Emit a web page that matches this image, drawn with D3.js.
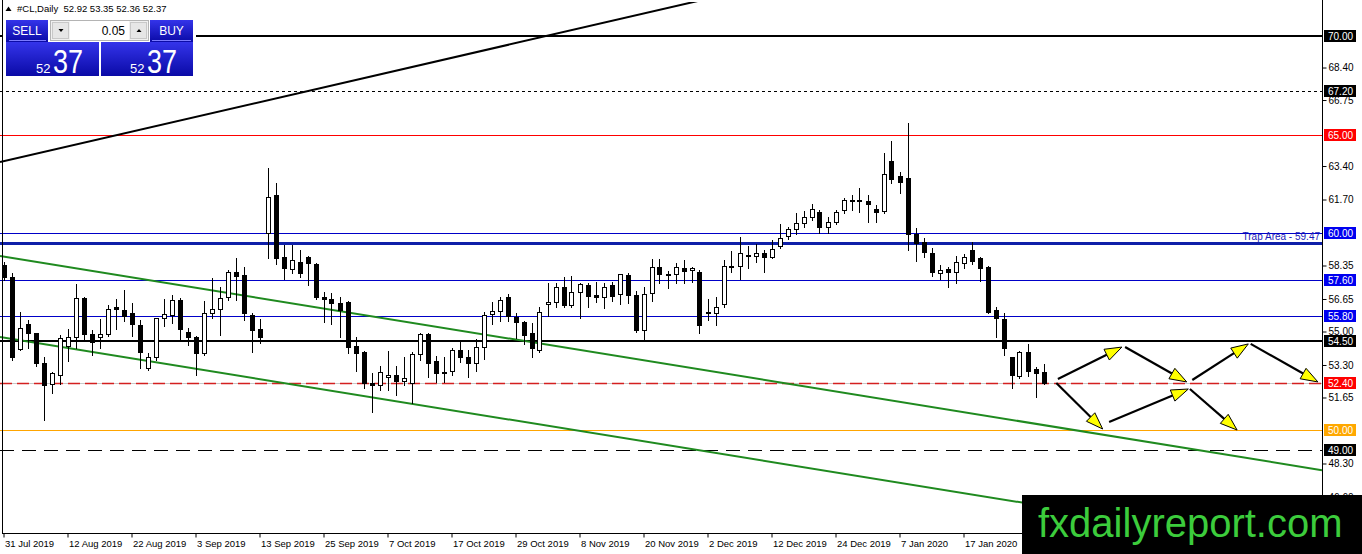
<!DOCTYPE html>
<html>
<head>
<meta charset="utf-8">
<script src="https://cdn.jsdelivr.net/npm/d3@7"></script>
<style>
  html, body { margin: 0; padding: 0; background: #fff; overflow: hidden; }
  svg { display: block; font-family: "Liberation Sans", Arial, sans-serif; }
</style>
</head>
<body>
<div id="chart"></div>
<script>
// --- daily candles, #CL ---
const opens = [58.38,57.79,54.11,55.38,54.92,53.40,52.34,52.79,54.26,54.72,56.70,54.87,54.72,54.87,56.24,56.09,55.94,55.33,53.15,53.71,
  55.69,55.84,56.60,54.97,54.72,53.91,55.94,56.14,56.75,58.02,57.87,55.84,55.13,60.00,61.93,58.78,58.17,58.53,58.78,58.43,
  56.75,56.65,56.45,56.50,54.26,53.96,52.39,52.28,52.69,52.79,52.49,52.39,53.86,54.87,53.50,52.94,52.99,54.06,53.71,53.40,
  54.21,55.89,56.04,56.75,55.74,55.48,54.92,54.06,56.40,56.50,57.26,56.35,57.01,57.36,56.85,56.75,57.36,56.90,57.87,56.85,
  55.08,56.95,58.27,57.92,57.92,58.22,58.12,58.02,55.99,55.94,56.40,58.32,58.32,58.88,58.83,58.98,58.78,59.34,59.85,60.20,
  60.51,60.81,61.07,60.30,60.56,61.17,61.68,61.62,61.62,61.22,61.12,63.65,62.89,62.79,59.95,59.54,58.98,57.97,58.17,58.02,
  58.48,59.14,58.73,58.27,56.09,55.63,53.71,52.74,53.96,53.10,52.92];
const highs = [58.53,57.97,56.00,55.58,54.92,53.71,52.94,54.82,55.13,57.41,56.75,55.08,55.63,56.35,56.65,57.11,56.45,55.58,53.91,55.69,
  56.65,56.85,56.70,55.18,54.77,56.55,57.72,57.26,58.12,58.73,58.27,55.94,55.63,63.30,62.54,59.39,59.39,59.14,58.83,58.48,
  57.01,56.95,56.75,56.55,54.72,54.01,52.89,53.25,54.01,53.25,53.71,53.96,54.92,54.92,53.76,53.71,54.16,54.57,54.06,54.62,
  55.99,56.50,56.75,56.90,55.94,55.53,55.43,56.24,57.46,57.46,57.77,57.82,57.46,57.46,57.51,57.46,57.51,57.92,57.97,57.06,
  57.26,58.68,58.68,58.07,58.48,58.63,58.27,58.12,56.65,56.75,58.63,59.09,59.80,59.34,59.44,59.14,59.64,60.46,60.30,61.02,
  61.12,61.47,61.17,60.81,61.17,61.78,61.93,62.28,61.93,61.42,64.06,64.67,63.10,65.58,60.25,59.75,59.24,58.38,58.27,58.83,
  58.93,59.54,58.78,58.32,56.24,55.94,53.71,54.01,54.37,53.20,53.35];
const lows = [57.61,53.55,54.06,54.16,53.25,50.51,51.88,52.34,53.50,54.16,54.57,53.81,54.16,54.77,55.13,55.53,54.77,53.15,53.05,53.55,
  55.28,55.43,54.57,54.31,52.79,53.81,55.69,54.82,56.60,56.60,55.58,53.96,54.42,58.73,58.43,57.67,57.97,57.77,57.36,56.65,
  55.48,55.38,54.72,53.91,52.99,52.13,50.91,52.03,52.03,51.78,52.28,51.37,53.55,52.69,52.44,52.44,52.79,53.45,52.69,52.99,
  53.60,55.38,55.53,55.53,54.67,54.37,53.71,53.96,55.79,56.24,56.24,56.24,55.69,56.24,56.50,56.19,56.55,56.40,56.45,54.97,
  54.62,56.55,57.46,57.21,57.46,57.46,57.51,54.92,55.58,55.33,56.24,58.02,57.67,58.22,58.53,58.02,58.73,59.24,59.70,59.95,
  60.30,60.66,60.00,60.00,60.46,61.02,61.17,61.07,60.56,60.56,61.02,62.54,62.03,59.14,58.58,58.78,57.82,57.67,57.26,57.46,
  58.22,58.43,57.56,55.94,54.72,53.81,52.13,52.64,52.74,51.68,52.36];
const closes = [57.77,53.72,55.18,54.92,53.40,52.28,52.89,54.67,54.72,56.70,54.87,54.47,54.87,56.14,56.14,55.79,55.38,53.96,53.71,55.69,
  55.89,56.60,55.13,54.72,53.91,55.94,56.14,56.70,58.02,57.82,55.94,55.08,54.72,61.83,58.73,58.22,58.63,57.97,58.48,56.75,
  56.65,56.45,56.09,54.21,53.91,52.39,52.28,52.94,52.79,52.49,52.64,53.86,54.87,53.40,52.89,52.89,54.06,53.71,53.40,54.21,
  55.84,56.04,56.60,55.79,55.48,54.82,54.16,55.99,56.50,57.26,56.35,57.01,57.41,56.80,56.75,57.26,56.80,57.92,56.85,55.08,
  56.90,58.27,57.92,57.87,58.27,58.07,58.22,55.33,55.94,56.24,58.32,58.27,58.98,58.83,58.98,58.78,59.19,59.75,60.20,60.51,
  60.81,61.22,60.30,60.56,61.07,61.68,61.62,61.68,61.47,61.07,62.99,62.74,62.59,59.95,59.49,59.04,58.02,58.12,58.02,58.53,
  58.78,58.58,58.22,55.99,55.69,54.16,52.79,53.96,52.99,52.89,52.37];

// trading calendar
const firstDay = "2019-07-31";
const holidays = ["2019-12-25", "2020-01-01"];
const tickLabels = ["31 Jul 2019","12 Aug 2019","22 Aug 2019","3 Sep 2019","13 Sep 2019","25 Sep 2019","7 Oct 2019",
  "17 Oct 2019","29 Oct 2019","8 Nov 2019","20 Nov 2019","2 Dec 2019","12 Dec 2019","24 Dec 2019","7 Jan 2020","17 Jan 2020"];

// price scale labels
const priceTicks = [68.40, 66.75, 63.40, 61.70, 58.35, 56.65, 55.00, 53.30, 51.65, 48.30, 46.60];

// horizontal levels
const levelPrices = [70.00, 67.20, 65.00, 60.00, 59.47, 57.60, 55.80, 54.50, 52.40, 50.00, 49.00];
const levelKinds  = ["black", "dotted", "red", "blue", "trap", "blue", "blue", "black", "reddash", "orange", "dash"];

// trend lines: [bar, price] anchor pairs
const resistanceLine = [[0, 63.64], [80, 71.14]];
const channelTop     = [[0, 58.80], [130, 50.25]];
const channelBottom  = [[0, 54.69], [130, 46.14]];

// projected path arrows, [bar, price]
const arrowFrom = [[131.8, 52.59], [140.2, 54.21], [148.6, 52.54], [155.9, 54.37], [131.6, 52.39], [138.2, 50.41], [148.3, 52.08]];
const arrowTo   = [[139.8, 54.21], [147.9, 52.44], [155.6, 54.37], [164.3, 52.44], [137.4, 50.05], [148.1, 52.08], [154.2, 50.00]];

// ---------------------------------------------------------------
const W = 1362, H = 554;
const plot = { left: 0, right: 1322, top: 2, bottom: 533 };

const dates = [];
const fmtIso = d3.utcFormat("%Y-%m-%d");
for (let d = new Date(firstDay + "T00:00:00Z"); dates.length < closes.length; d.setUTCDate(d.getUTCDate() + 1)) {
  const wd = d.getUTCDay();
  if (wd === 0 || wd === 6 || holidays.includes(fmtIso(d))) continue;
  dates.push(new Date(d));
}
const fmtDate = d3.utcFormat("%-d %b %Y");
const dateStr = dates.map(fmtDate);
const tickIdx = tickLabels.map(t => dateStr.indexOf(t)).filter(i => i >= 0);

const x = d3.scaleLinear().domain([0, closes.length - 1]).range([3.5, 3.5 + 8 * (closes.length - 1)]);
const y = d3.scaleLinear().domain([50, 70]).range([430, 36]);

const svg = d3.select("#chart").append("svg")
  .attr("width", W).attr("height", H);

svg.append("rect").attr("width", W).attr("height", H).attr("fill", "#fff");

const defs = svg.append("defs");
defs.append("clipPath").attr("id", "plotClip")
  .append("rect")
  .attr("x", plot.left).attr("y", plot.top)
  .attr("width", plot.right - plot.left).attr("height", plot.bottom - plot.top);

const btnGrad = defs.append("linearGradient").attr("id", "btnGrad")
  .attr("x1", 0).attr("y1", 0).attr("x2", 0).attr("y2", 1);
btnGrad.append("stop").attr("offset", "0%").attr("stop-color", "#3434ea");
btnGrad.append("stop").attr("offset", "100%").attr("stop-color", "#0a0aa6");

const g = svg.append("g").attr("clip-path", "url(#plotClip)");

// level lines
const levelStyle = {
  black:   { stroke: "#000", width: 2, dash: null },
  dotted:  { stroke: "#000", width: 1, dash: "3,3" },
  red:     { stroke: "#ff0000", width: 1, dash: null },
  blue:    { stroke: "#0000c8", width: 1, dash: null },
  trap:    { stroke: "#0f1fa8", width: 3, dash: null },
  reddash: { stroke: "#d42020", width: 1.5, dash: "12,5" },
  orange:  { stroke: "#ffa500", width: 1, dash: null },
  dash:    { stroke: "#000", width: 1, dash: "14,8" }
};

levelPrices.forEach((p, i) => {
  const st = levelStyle[levelKinds[i]];
  const yy = Math.round(y(p)) + (st.width % 2 ? 0.5 : 0);
  if (levelKinds[i] === "reddash") {
    g.append("line").attr("x1", 0).attr("x2", plot.right).attr("y1", yy).attr("y2", yy)
      .attr("stroke", "#c8c8c8").attr("stroke-width", 1);
  }
  g.append("line")
    .attr("x1", 0).attr("x2", plot.right)
    .attr("y1", yy).attr("y2", yy)
    .attr("stroke", st.stroke)
    .attr("stroke-width", st.width)
    .attr("stroke-dasharray", st.dash);
});

// trap area caption
g.append("text")
  .attr("x", 1320).attr("y", y(59.47) - 3)
  .attr("text-anchor", "end")
  .attr("font-size", 10)
  .attr("fill", "#1a1ab8")
  .text("Trap Area - " + d3.format(".2f")(59.47));

// trend lines extended across the plot
function drawTrend(anchors, color, width) {
  const [[b1, p1], [b2, p2]] = anchors;
  const slope = (p2 - p1) / (b2 - b1);
  const bL = x.invert(0), bR = x.invert(plot.right);
  g.append("line")
    .attr("x1", x(bL)).attr("y1", y(p1 + slope * (bL - b1)))
    .attr("x2", x(bR)).attr("y2", y(p1 + slope * (bR - b1)))
    .attr("stroke", color).attr("stroke-width", width);
}
drawTrend(resistanceLine, "#000", 2);
drawTrend(channelTop, "#1f8a1f", 2);
drawTrend(channelBottom, "#1f8a1f", 2);

// candles
const candles = g.append("g").attr("shape-rendering", "crispEdges");
d3.range(closes.length).forEach(i => {
  const cx = Math.round(x(i));
  const up = closes[i] >= opens[i];
  candles.append("line")
    .attr("x1", cx + 0.5).attr("x2", cx + 0.5)
    .attr("y1", Math.round(y(highs[i]))).attr("y2", Math.round(y(lows[i])) + 1)
    .attr("stroke", "#000").attr("stroke-width", 1);
  const top = Math.round(y(Math.max(opens[i], closes[i])));
  const bot = Math.round(y(Math.min(opens[i], closes[i])));
  candles.append("rect")
    .attr("x", cx - 1.5).attr("y", top + 0.5)
    .attr("width", 4).attr("height", Math.max(bot - top, 0.01))
    .attr("fill", up ? "#fff" : "#000")
    .attr("stroke", "#000").attr("stroke-width", 1);
});

// arrows
arrowFrom.forEach((a, i) => {
  const b = arrowTo[i];
  const x1 = x(a[0]), y1 = y(a[1]), x2 = x(b[0]), y2 = y(b[1]);
  const ang = Math.atan2(y2 - y1, x2 - x1);
  const c = Math.cos(ang), s = Math.sin(ang);
  const len = 17, half = 6;
  const bx = x2 - c * len, by = y2 - s * len;
  g.append("line")
    .attr("x1", x1).attr("y1", y1).attr("x2", bx).attr("y2", by)
    .attr("stroke", "#000").attr("stroke-width", 2.2);
  g.append("path")
    .attr("d", `M${x2},${y2}L${bx - s * half},${by + c * half}L${bx + s * half},${by - c * half}Z`)
    .attr("fill", "#ffff00").attr("stroke", "#000").attr("stroke-width", 1);
});

// frame
svg.append("line").attr("x1", 2.5).attr("x2", 2.5).attr("y1", 0).attr("y2", plot.bottom)
  .attr("stroke", "#000");
svg.append("line").attr("x1", 2).attr("x2", plot.right + 1).attr("y1", plot.bottom + 0.5).attr("y2", plot.bottom + 0.5)
  .attr("stroke", "#000");
svg.append("line").attr("x1", plot.right + 0.5).attr("x2", plot.right + 0.5).attr("y1", 0).attr("y2", plot.bottom)
  .attr("stroke", "#000");

// price axis
const yAxis = d3.axisRight(y).tickValues(priceTicks).tickSize(4).tickPadding(2).tickFormat(d3.format(".2f"));
svg.append("g")
  .attr("transform", `translate(${plot.right + 0.5},0)`)
  .call(yAxis)
  .call(a => a.select(".domain").remove())
  .call(a => a.selectAll("text").attr("font-family", "Liberation Sans, Arial, sans-serif").attr("font-size", 10).attr("fill", "#000"));

// level tags on the price axis
const tagColor = { black: "#000", dotted: "#000", red: "#ff0000", blue: "#0000f0", trap: null,
  reddash: "#ff0000", orange: "#ffa800", dash: "#000" };
levelPrices.forEach((p, i) => {
  const col = tagColor[levelKinds[i]];
  if (!col) return;
  const yy = Math.round(y(p));
  svg.append("rect")
    .attr("x", plot.right + 2).attr("y", yy - 6)
    .attr("width", 32).attr("height", 12)
    .attr("fill", col);
  svg.append("text")
    .attr("x", plot.right + 6).attr("y", yy + 4)
    .attr("font-size", 10).attr("fill", "#fff")
    .text(d3.format(".2f")(p));
});

// date axis
const xAxis = d3.axisBottom(x).tickValues(tickIdx).tickSize(4).tickPadding(3).tickFormat(i => dateStr[i]);
svg.append("g")
  .attr("transform", `translate(0,${plot.bottom + 0.5})`)
  .call(xAxis)
  .call(a => a.select(".domain").remove())
  .call(a => a.selectAll("text")
    .attr("font-family", "Liberation Sans, Arial, sans-serif")
    .attr("font-size", 9.5).attr("fill", "#000")
    .attr("text-anchor", "start").attr("dx", 1));

// trade panel
const last = closes.length - 1;
const f2 = d3.format(".2f");
const panel = svg.append("g");
panel.append("rect").attr("x", 3).attr("y", 14).attr("width", 193).attr("height", 64).attr("fill", "#fff");
panel.append("path").attr("d", "M5.5,11 L8.5,6.5 L11.5,11 Z").attr("fill", "#000");
panel.append("text")
  .attr("x", 17).attr("y", 12)
  .attr("font-size", 9.5).attr("fill", "#000")
  .style("white-space", "pre")
  .text(`#CL,Daily  ${f2(opens[last])} ${f2(highs[last])} ${f2(lows[last])} ${f2(closes[last])}`);

panel.append("rect").attr("x", 6).attr("y", 20).attr("width", 42).attr("height", 22).attr("fill", "url(#btnGrad)");
panel.append("rect").attr("x", 150).attr("y", 20).attr("width", 43).attr("height", 22).attr("fill", "url(#btnGrad)");
panel.append("line").attr("x1", 9).attr("x2", 46).attr("y1", 40.5).attr("y2", 40.5).attr("stroke", "#7a7aff");
panel.append("line").attr("x1", 152).attr("x2", 191).attr("y1", 40.5).attr("y2", 40.5).attr("stroke", "#7a7aff");
panel.append("text").attr("x", 27).attr("y", 35).attr("text-anchor", "middle")
  .attr("font-size", 12).attr("fill", "#fff").text("SELL");
panel.append("text").attr("x", 171.5).attr("y", 35).attr("text-anchor", "middle")
  .attr("font-size", 12).attr("fill", "#fff").text("BUY");

panel.append("rect").attr("x", 50.5).attr("y", 20.5).attr("width", 98).attr("height", 20)
  .attr("fill", "#f0f0f0").attr("stroke", "#b4b4b4");
panel.append("rect").attr("x", 52.5).attr("y", 22.5).attr("width", 16).attr("height", 16)
  .attr("fill", "#e6e6e6").attr("stroke", "#c8c8c8");
panel.append("rect").attr("x", 130.5).attr("y", 22.5).attr("width", 16).attr("height", 16)
  .attr("fill", "#e6e6e6").attr("stroke", "#c8c8c8");
panel.append("rect").attr("x", 70).attr("y", 21).attr("width", 59).attr("height", 19).attr("fill", "#fff");
panel.append("path").attr("d", "M58.5,29 L63.5,29 L61,32 Z").attr("fill", "#000");
panel.append("path").attr("d", "M136.5,32 L141.5,32 L139,29 Z").attr("fill", "#000");
panel.append("text").attr("x", 125).attr("y", 35).attr("text-anchor", "end")
  .attr("font-size", 12).attr("fill", "#000").text("0.05");

const big = Math.floor(closes[last]);
const pips = f2(closes[last]).split(".")[1];
[[6, 93, 36], [101, 92, 130]].forEach(([bx, bw, tx]) => {
  panel.append("rect").attr("x", bx).attr("y", 42).attr("width", bw).attr("height", 34).attr("fill", "url(#btnGrad)");
  panel.append("text").attr("x", tx).attr("y", 72.5)
    .attr("font-size", 13).attr("fill", "#fff").text(big);
  panel.append("text").attr("x", tx + 17).attr("y", 72.5)
    .attr("font-size", 34).attr("fill", "#fff")
    .attr("textLength", 30).attr("lengthAdjust", "spacingAndGlyphs")
    .text(pips);
});

// watermark banner
svg.append("rect").attr("x", 1022).attr("y", 495).attr("width", W - 1022).attr("height", H - 495).attr("fill", "#000");
svg.append("text")
  .attr("x", 1038).attr("y", 537)
  .attr("font-size", 40).attr("fill", "#3ccc3c")
  .text("fxdailyreport.com");
</script>
</body>
</html>
